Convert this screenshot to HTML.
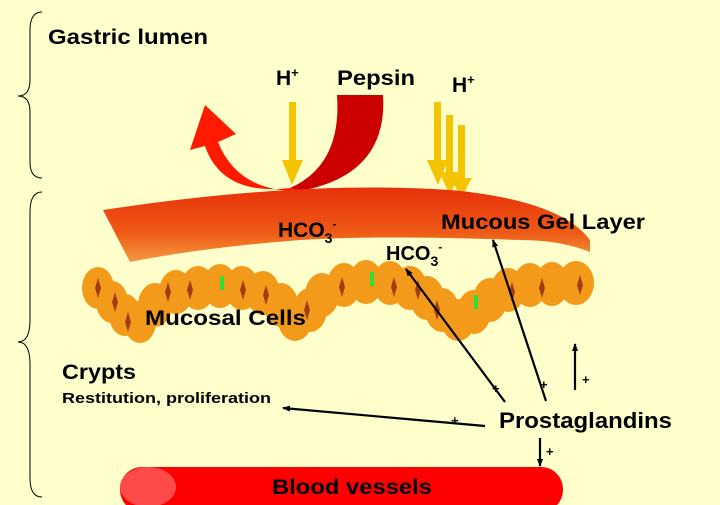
<!DOCTYPE html>
<html><head><meta charset="utf-8"><style>
html,body{margin:0;padding:0;background:#FFFFCC;}
svg{display:block;}
text{font-family:"Liberation Sans",Arial,sans-serif;font-weight:bold;fill:#000;}
</style></head><body>
<svg width="720" height="505" viewBox="0 0 720 505" xmlns="http://www.w3.org/2000/svg">
<defs>
<linearGradient id="gel" x1="0" y1="0" x2="0" y2="1">
<stop offset="0" stop-color="#E8300A"/><stop offset="0.6" stop-color="#EE5A15"/><stop offset="1" stop-color="#F59A40"/>
</linearGradient>
<marker id="ah" markerWidth="8" markerHeight="8" refX="7" refY="4" orient="auto" markerUnits="userSpaceOnUse">
<path d="M0,1 L8,4 L0,7 Z" fill="#000"/></marker>
</defs>
<rect width="720" height="505" fill="#FFFFCC"/>
<path d="M42,12 Q30,12 30,30 L30,80 Q30,96 18,96 Q30,96 30,112 L30,162 Q30,178 42,178" fill="none" stroke="#000" stroke-width="1"/>
<path d="M42,192 Q30,192 30,212 L30,320 Q30,342 18,342 Q30,342 30,364 L30,478 Q30,497 42,497" fill="none" stroke="#000" stroke-width="1"/>
<text x="48" y="44" font-size="21" textLength="160" lengthAdjust="spacingAndGlyphs">Gastric lumen</text>
<!-- U arrow -->
<path d="M337,95 L383,95 Q388,175 300,191 L290,188 Q342,165 337,95 Z" fill="#CC0000"/>
<path d="M300,191 Q238,192 218,142 L236,134 L205,105 L190,150 L205,146 Q222,196 290,188 Z" fill="#FF1A00"/>
<rect x="289" y="102" width="7" height="60" fill="#F4C400"/>
<path d="M282,160 L303,160 L292,185 Z" fill="#F4C400"/>
<rect x="434" y="102" width="7" height="60" fill="#F4C400"/>
<rect x="446" y="115" width="7" height="60" fill="#F4C400"/>
<rect x="458" y="125" width="7" height="55" fill="#F4C400"/>
<path d="M427,160 L448,160 L438,185 Z" fill="#F4C400"/>
<path d="M439,172 L460,172 L450,195 Z" fill="#F4C400"/>
<path d="M451,178 L472,178 L461,198 Z" fill="#F4C400"/>
<text x="276" y="85" font-size="21">H<tspan font-size="13" dy="-8">+</tspan></text>
<text x="337" y="85" font-size="21" textLength="78" lengthAdjust="spacingAndGlyphs">Pepsin</text>
<text x="452" y="92" font-size="21">H<tspan font-size="13" dy="-8">+</tspan></text>
<!-- gel -->
<path d="M103,210 Q300,180 450,190 Q560,200 590,240 L590,252 Q560,240 520,240 Q380,235 300,240 Q200,248 130,262 Z" fill="url(#gel)"/>
<text x="278" y="237" font-size="21">HCO<tspan font-size="14" dy="6">3</tspan><tspan font-size="12" dy="-15">-</tspan></text>
<text x="441" y="229" font-size="21" textLength="204" lengthAdjust="spacingAndGlyphs">Mucous Gel Layer</text>
<!-- cells -->
<g fill="#F49A1A">
<ellipse cx="98" cy="288" rx="16" ry="21"/><ellipse cx="112" cy="302" rx="16" ry="21"/><ellipse cx="125" cy="315" rx="16" ry="21"/><ellipse cx="140" cy="322" rx="16" ry="21"/>
<ellipse cx="155" cy="305" rx="17" ry="22"/><ellipse cx="176" cy="292" rx="17" ry="22"/><ellipse cx="198" cy="288" rx="17" ry="22"/><ellipse cx="220" cy="286" rx="17" ry="22"/>
<ellipse cx="242" cy="288" rx="17" ry="22"/><ellipse cx="263" cy="293" rx="17" ry="22"/><ellipse cx="281" cy="305" rx="17" ry="22"/><ellipse cx="295" cy="320" rx="17" ry="21"/>
<ellipse cx="310" cy="310" rx="17" ry="22"/><ellipse cx="322" cy="295" rx="17" ry="22"/><ellipse cx="344" cy="285" rx="17" ry="22"/><ellipse cx="366" cy="282" rx="17" ry="22"/>
<ellipse cx="390" cy="283" rx="17" ry="22"/><ellipse cx="410" cy="288" rx="17" ry="22"/><ellipse cx="427" cy="298" rx="17" ry="22"/><ellipse cx="442" cy="310" rx="17" ry="22"/>
<ellipse cx="458" cy="320" rx="17" ry="21"/><ellipse cx="474" cy="312" rx="17" ry="22"/><ellipse cx="490" cy="300" rx="17" ry="22"/><ellipse cx="508" cy="290" rx="17" ry="22"/>
<ellipse cx="530" cy="285" rx="17" ry="22"/><ellipse cx="552" cy="284" rx="17" ry="22"/><ellipse cx="576" cy="283" rx="18" ry="22"/>
</g>
<g fill="#A33C12">
<path d="M98,278 l3,10 l-3,10 l-3,-10 Z"/><path d="M115,292 l3,10 l-3,10 l-3,-10 Z"/><path d="M128,312 l3,10 l-3,10 l-3,-10 Z"/>
<path d="M168,282 l3,10 l-3,10 l-3,-10 Z"/><path d="M190,280 l3,10 l-3,10 l-3,-10 Z"/><path d="M243,280 l3,10 l-3,10 l-3,-10 Z"/>
<path d="M266,285 l3,10 l-3,10 l-3,-10 Z"/><path d="M307,300 l3,10 l-3,10 l-3,-10 Z"/><path d="M342,277 l3,10 l-3,10 l-3,-10 Z"/>
<path d="M394,277 l3,10 l-3,10 l-3,-10 Z"/><path d="M418,280 l3,10 l-3,10 l-3,-10 Z"/><path d="M437,300 l3,10 l-3,10 l-3,-10 Z"/>
<path d="M512,282 l3,10 l-3,10 l-3,-10 Z"/><path d="M542,278 l3,10 l-3,10 l-3,-10 Z"/><path d="M580,275 l3,10 l-3,10 l-3,-10 Z"/>
</g>
<g fill="#33DD33"><rect x="220" y="276" width="4" height="14"/><rect x="370" y="272" width="4" height="14"/><rect x="474" y="295" width="4" height="14"/></g>
<text x="386" y="260" font-size="20">HCO<tspan font-size="14" dy="6">3</tspan><tspan font-size="12" dy="-15">-</tspan></text>
<text x="145" y="325" font-size="21" textLength="161" lengthAdjust="spacingAndGlyphs">Mucosal Cells</text>
<text x="62" y="379" font-size="21" textLength="74" lengthAdjust="spacingAndGlyphs">Crypts</text>
<text x="62" y="403" font-size="15" textLength="209" lengthAdjust="spacingAndGlyphs">Restitution, proliferation</text>
<text x="499" y="428" font-size="22" textLength="173" lengthAdjust="spacingAndGlyphs">Prostaglandins</text>
<rect x="120" y="467" width="443" height="45" rx="22" fill="#FF0000"/>
<ellipse cx="148" cy="487" rx="28" ry="20" fill="#FF4A4A"/>
<text x="272" y="494" font-size="21" textLength="160" lengthAdjust="spacingAndGlyphs">Blood vessels</text>
<g stroke="#000" stroke-width="2.2" fill="none" marker-end="url(#ah)">
<line x1="505" y1="402" x2="406" y2="269"/>
<line x1="546" y1="401" x2="493" y2="240"/>
<line x1="575" y1="390" x2="575" y2="344"/>
<line x1="485" y1="426" x2="283" y2="408"/>
<line x1="540" y1="438" x2="540" y2="466"/>
</g>
<g font-size="13"><text x="492" y="393">+</text><text x="540" y="389">+</text><text x="582" y="384">+</text><text x="451" y="425">+</text><text x="546" y="456">+</text></g>
</svg>
</body></html>
